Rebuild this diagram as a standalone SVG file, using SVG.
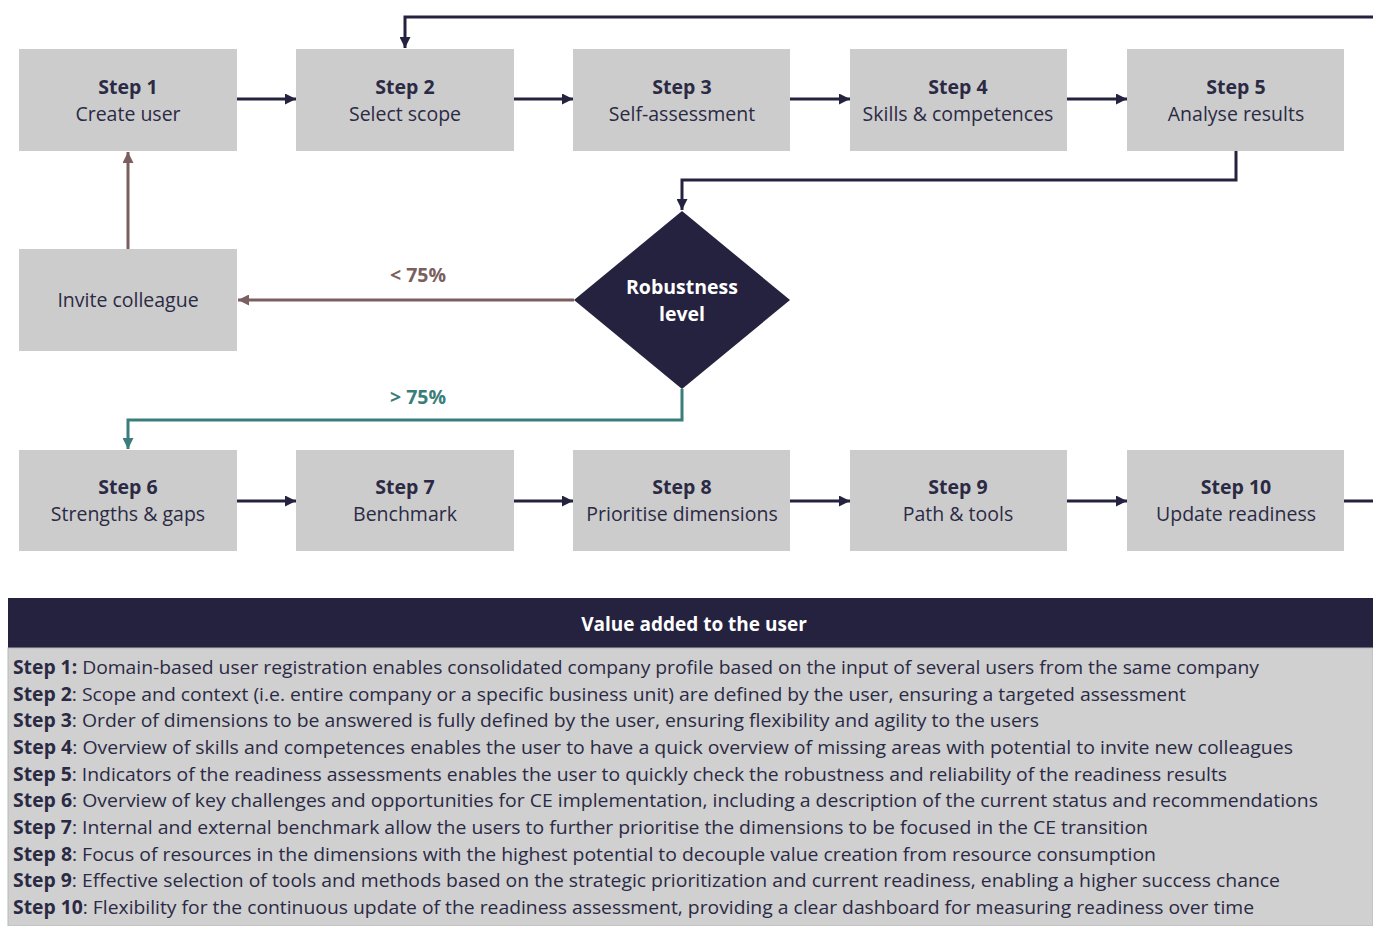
<svg xmlns="http://www.w3.org/2000/svg" width="1373" height="926" viewBox="0 0 1373 926">
<defs>
<style>
.box{fill:#cccccc;}
.t{font-family:"Open Sans","Liberation Sans",sans-serif;font-size:19.5px;fill:#2b2a45;text-anchor:middle;}
.b{font-weight:bold;}
.dk{stroke:#25223f;stroke-width:3;fill:none;}
.br{stroke:#7b5f5f;stroke-width:3;fill:none;}
.tl{stroke:#3a7d7a;stroke-width:3;fill:none;}
.row{font-family:"Open Sans","Liberation Sans",sans-serif;font-size:19px;fill:#2b2a45;}
</style>
<marker id="aDk" viewBox="0 0 10 10" refX="10" refY="5" markerWidth="11" markerHeight="11" markerUnits="userSpaceOnUse" orient="auto"><path d="M0,0 L10,5 L0,10 z" fill="#25223f"/></marker>
<marker id="aBr" viewBox="0 0 10 10" refX="10" refY="5" markerWidth="11" markerHeight="11" markerUnits="userSpaceOnUse" orient="auto"><path d="M0,0 L10,5 L0,10 z" fill="#7b5f5f"/></marker>
<marker id="aTl" viewBox="0 0 10 10" refX="10" refY="5" markerWidth="11" markerHeight="11" markerUnits="userSpaceOnUse" orient="auto"><path d="M0,0 L10,5 L0,10 z" fill="#3a7d7a"/></marker>
</defs>
<rect width="1373" height="926" fill="#ffffff"/>

<g id="connectors">
<line class="dk" x1="237" y1="99" x2="296" y2="99" marker-end="url(#aDk)"/>
<line class="dk" x1="514" y1="99" x2="573" y2="99" marker-end="url(#aDk)"/>
<line class="dk" x1="790" y1="99" x2="850" y2="99" marker-end="url(#aDk)"/>
<line class="dk" x1="1067" y1="99" x2="1127" y2="99" marker-end="url(#aDk)"/>
<polyline class="dk" points="1373,17 405,17 405,48" marker-end="url(#aDk)"/>
<polyline class="dk" points="1236,151 1236,180 682,180 682,210" marker-end="url(#aDk)"/>
<line class="br" x1="574" y1="300" x2="238" y2="300" marker-end="url(#aBr)"/>
<line class="br" x1="128" y1="249" x2="128" y2="152" marker-end="url(#aBr)"/>
<polyline class="tl" points="682,389 682,420 128,420 128,449" marker-end="url(#aTl)"/>
<line class="dk" x1="237" y1="501" x2="296" y2="501" marker-end="url(#aDk)"/>
<line class="dk" x1="514" y1="501" x2="573" y2="501" marker-end="url(#aDk)"/>
<line class="dk" x1="790" y1="501" x2="850" y2="501" marker-end="url(#aDk)"/>
<line class="dk" x1="1067" y1="501" x2="1127" y2="501" marker-end="url(#aDk)"/>
<line class="dk" x1="1344" y1="501" x2="1373" y2="501"/>
<text class="t b" x="418" y="282" style="fill:#7b5f5f">&lt; 75%</text>
<text class="t b" x="418" y="404" style="fill:#3a7d7a">&gt; 75%</text>
</g>

<g id="step1"><rect class="box" x="19" y="49" width="218" height="102"/><text class="t b" x="128" y="94">Step 1</text><text class="t" x="128" y="121">Create user</text></g>
<g id="step2"><rect class="box" x="296" y="49" width="218" height="102"/><text class="t b" x="405" y="94">Step 2</text><text class="t" x="405" y="121">Select scope</text></g>
<g id="step3"><rect class="box" x="573" y="49" width="217" height="102"/><text class="t b" x="682" y="94">Step 3</text><text class="t" x="682" y="121">Self-assessment</text></g>
<g id="step4"><rect class="box" x="850" y="49" width="217" height="102"/><text class="t b" x="958" y="94">Step 4</text><text class="t" x="958" y="121">Skills &amp; competences</text></g>
<g id="step5"><rect class="box" x="1127" y="49" width="217" height="102"/><text class="t b" x="1236" y="94">Step 5</text><text class="t" x="1236" y="121">Analyse results</text></g>

<g id="invite"><rect class="box" x="19" y="249" width="218" height="102"/><text class="t" x="128" y="307">Invite colleague</text></g>

<g id="robustness"><polygon points="682,211 790,300 682,389 574,300" fill="#25223f"/><text class="t b" x="682" y="294" style="fill:#ffffff">Robustness</text><text class="t b" x="682" y="321" style="fill:#ffffff">level</text></g>

<g id="step6"><rect class="box" x="19" y="450" width="218" height="101"/><text class="t b" x="128" y="494">Step 6</text><text class="t" x="128" y="521">Strengths &amp; gaps</text></g>
<g id="step7"><rect class="box" x="296" y="450" width="218" height="101"/><text class="t b" x="405" y="494">Step 7</text><text class="t" x="405" y="521">Benchmark</text></g>
<g id="step8"><rect class="box" x="573" y="450" width="217" height="101"/><text class="t b" x="682" y="494">Step 8</text><text class="t" x="682" y="521">Prioritise dimensions</text></g>
<g id="step9"><rect class="box" x="850" y="450" width="217" height="101"/><text class="t b" x="958" y="494">Step 9</text><text class="t" x="958" y="521">Path &amp; tools</text></g>
<g id="step10"><rect class="box" x="1127" y="450" width="217" height="101"/><text class="t b" x="1236" y="494">Step 10</text><text class="t" x="1236" y="521">Update readiness</text></g>

<g id="value-table">
<rect x="8" y="598" width="1365" height="50" fill="#25223f"/>
<rect x="8" y="648" width="1365" height="278" fill="#d0d0d0" stroke="#b8b8b8" stroke-width="1"/>
<text class="t b" x="694" y="631" style="fill:#ffffff;font-size:19px">Value added to the user</text>
<text class="row" x="13" y="674" textLength="1246" lengthAdjust="spacingAndGlyphs"><tspan class="b">Step 1:</tspan> Domain-based user registration enables consolidated company profile based on the input of several users from the same company</text>
<text class="row" x="13" y="701" textLength="1173" lengthAdjust="spacingAndGlyphs"><tspan class="b">Step 2</tspan>: Scope and context (i.e. entire company or a specific business unit) are defined by the user, ensuring a targeted assessment</text>
<text class="row" x="13" y="727" textLength="1026" lengthAdjust="spacingAndGlyphs"><tspan class="b">Step 3</tspan>: Order of dimensions to be answered is fully defined by the user, ensuring flexibility and agility to the users</text>
<text class="row" x="13" y="754" textLength="1280" lengthAdjust="spacingAndGlyphs"><tspan class="b">Step 4</tspan>: Overview of skills and competences enables the user to have a quick overview of missing areas with potential to invite new colleagues</text>
<text class="row" x="13" y="781" textLength="1214" lengthAdjust="spacingAndGlyphs"><tspan class="b">Step 5</tspan>: Indicators of the readiness assessments enables the user to quickly check the robustness and reliability of the readiness results</text>
<text class="row" x="13" y="807" textLength="1305" lengthAdjust="spacingAndGlyphs"><tspan class="b">Step 6</tspan>: Overview of key challenges and opportunities for CE implementation, including a description of the current status and recommendations</text>
<text class="row" x="13" y="834" textLength="1135" lengthAdjust="spacingAndGlyphs"><tspan class="b">Step 7</tspan>: Internal and external benchmark allow the users to further prioritise the dimensions to be focused in the CE transition</text>
<text class="row" x="13" y="861" textLength="1143" lengthAdjust="spacingAndGlyphs"><tspan class="b">Step 8</tspan>: Focus of resources in the dimensions with the highest potential to decouple value creation from resource consumption</text>
<text class="row" x="13" y="887" textLength="1267" lengthAdjust="spacingAndGlyphs"><tspan class="b">Step 9</tspan>: Effective selection of tools and methods based on the strategic prioritization and current readiness, enabling a higher success chance</text>
<text class="row" x="13" y="914" textLength="1241" lengthAdjust="spacingAndGlyphs"><tspan class="b">Step 10</tspan>: Flexibility for the continuous update of the readiness assessment, providing a clear dashboard for measuring readiness over time</text>
</g>
</svg>
